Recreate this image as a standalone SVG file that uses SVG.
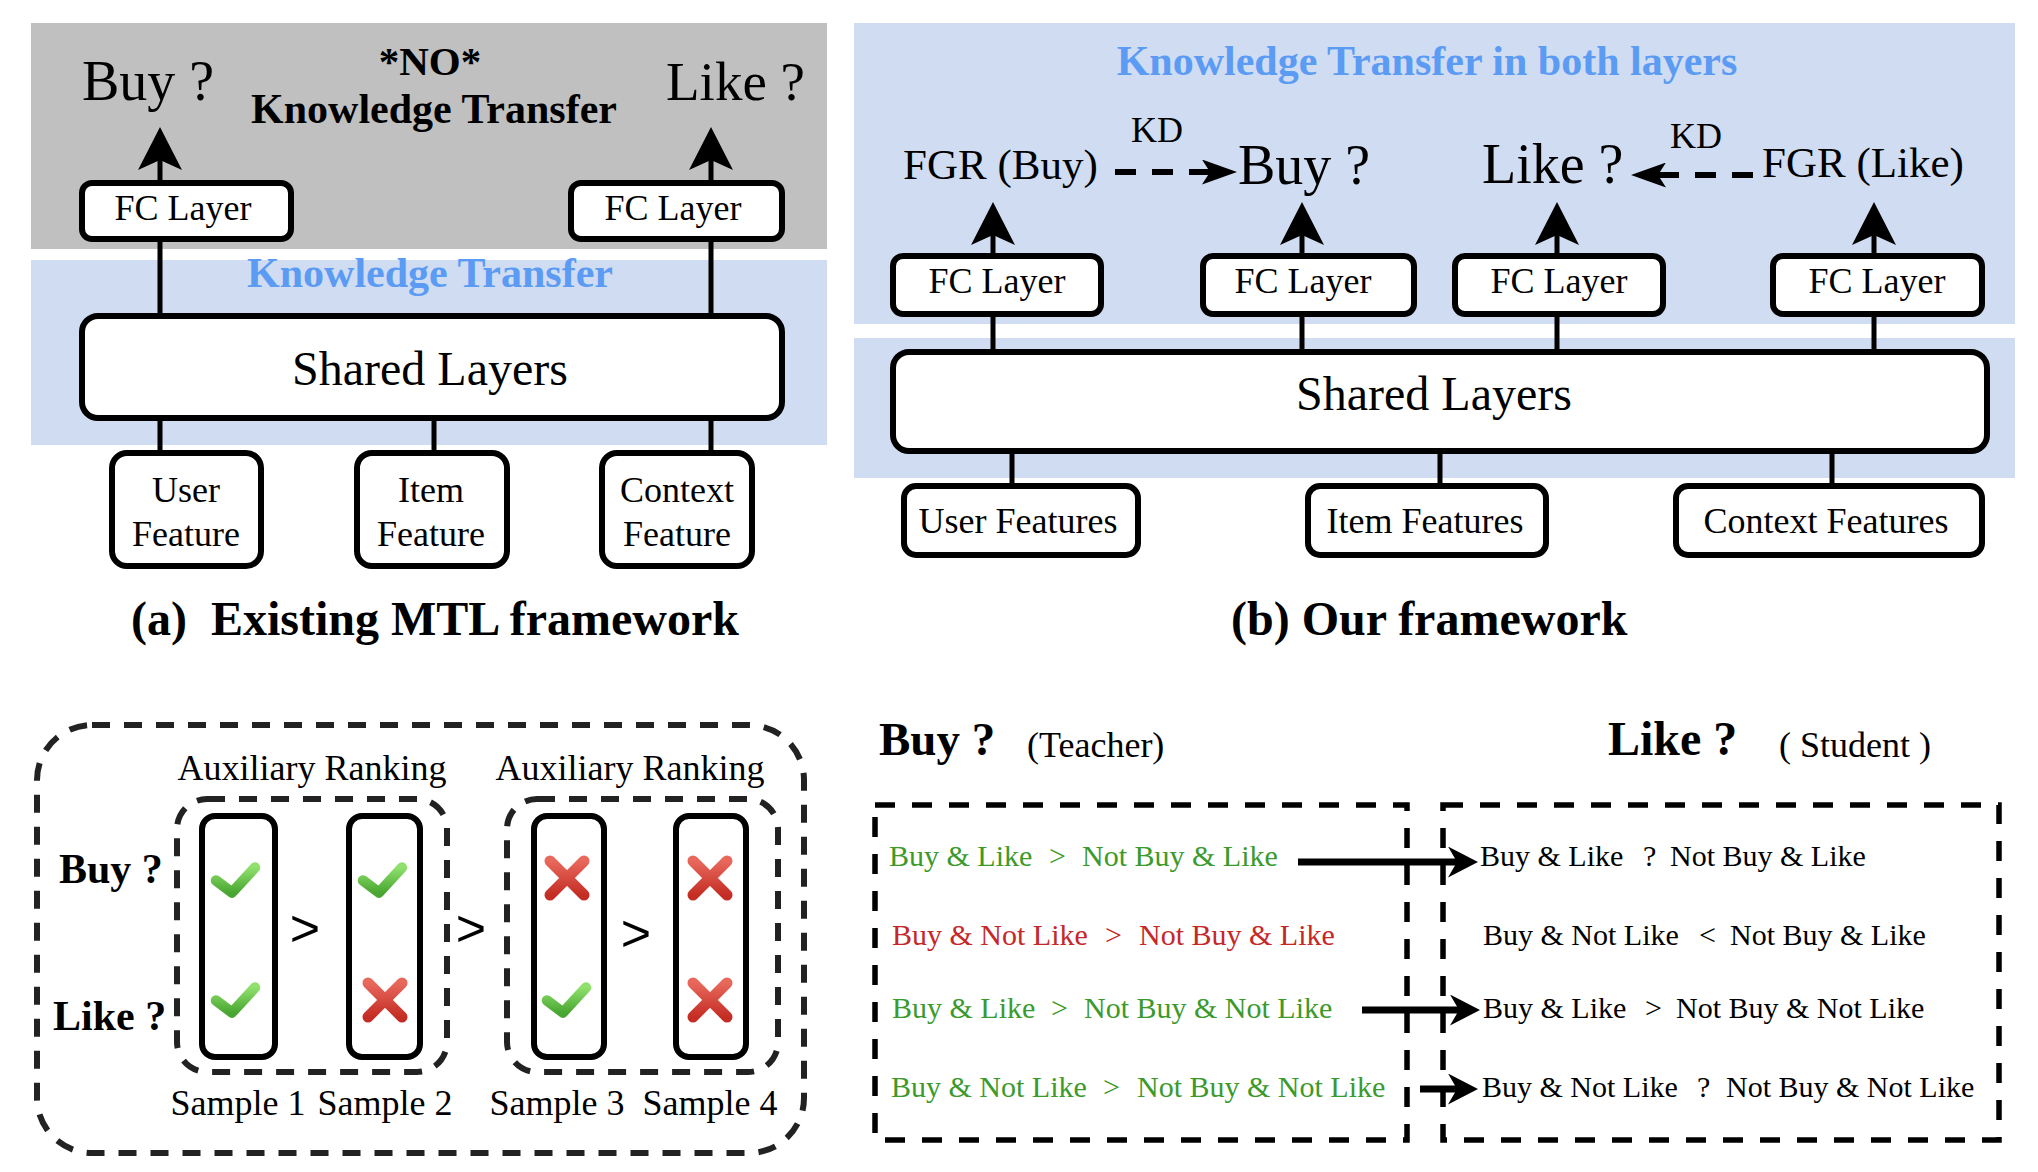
<svg xmlns="http://www.w3.org/2000/svg" width="2038" height="1172" viewBox="0 0 2038 1172">
<style>
text{font-family:"Liberation Serif","Times New Roman",serif;fill:#000}
.b{font-weight:bold}
.blue{fill:#5B9BF3;font-weight:bold}
.box{fill:#fff;stroke:#000;stroke-width:6}
.ln{stroke:#000;stroke-width:5;fill:none}
.dsh{fill:none;stroke:#222;stroke-width:6;stroke-dasharray:18 14}
.dsd{fill:none;stroke:#000;stroke-width:5.5;stroke-dasharray:20 17}
.grn{fill:#3C9A2C}
.red{fill:#C52828}
.sym{font-family:"Liberation Sans",Arial,sans-serif}
</style>
<defs>
<marker id="ahUp" markerUnits="userSpaceOnUse" markerWidth="44" markerHeight="44" viewBox="0 0 43 44" refX="10" refY="22" orient="auto"><path d="M0,0 L43,22 L0,44 L10,22 Z" fill="#000"/></marker>
<marker id="ahKD" markerUnits="userSpaceOnUse" markerWidth="35" markerHeight="25" viewBox="0 0 35 25" refX="8" refY="12.5" orient="auto"><path d="M0,0 L35,12.5 L0,25 L8,12.5 Z" fill="#000"/></marker>
<marker id="ahD" markerUnits="userSpaceOnUse" markerWidth="30" markerHeight="31" viewBox="0 0 30 31" refX="9" refY="15.5" orient="auto"><path d="M0,0 L30,15.5 L0,31 L9,15.5 Z" fill="#000"/></marker>
<linearGradient id="gG" x1="0" y1="0" x2="0" y2="1"><stop offset="0" stop-color="#8FE06C"/><stop offset="1" stop-color="#4AA632"/></linearGradient>
<linearGradient id="gR" x1="0" y1="0" x2="0" y2="1"><stop offset="0" stop-color="#E8685C"/><stop offset="1" stop-color="#C42D24"/></linearGradient>
<g id="chk"><path d="M-19,0.5 L-3,12.5 L20,-12.5" fill="none" stroke="url(#gG)" stroke-width="10.5" stroke-linecap="round" stroke-linejoin="round"/></g>
<g id="crs"><path d="M-17,-17 L17,17 M17,-17 L-17,17" fill="none" stroke="url(#gR)" stroke-width="11" stroke-linecap="round"/></g>
</defs>
<rect width="2038" height="1172" fill="#fff"/>

<!-- (a) Existing MTL framework -->
<g id="a-backgrounds">
<rect x="31" y="23" width="796" height="226" fill="#C0C0C0"/>
<rect x="31" y="260" width="796" height="185" fill="#CFDCF1"/>
</g>
<g id="a-labels">
<text x="82" y="100" font-size="56">Buy ?</text>
<text x="666" y="100" font-size="55">Like ?</text>
<text class="b" x="430" y="75" font-size="41" text-anchor="middle">*NO*</text>
<text class="b" x="434" y="123" font-size="42" text-anchor="middle">Knowledge Transfer</text>
<text class="blue" x="430" y="287" font-size="42" text-anchor="middle">Knowledge Transfer</text>
</g>
<g id="a-connectors">
<line class="ln" x1="160" y1="183" x2="160" y2="160" marker-end="url(#ahUp)"/>
<line class="ln" x1="711" y1="183" x2="711" y2="160" marker-end="url(#ahUp)"/>
<line class="ln" x1="160" y1="242" x2="160" y2="316"/>
<line class="ln" x1="711" y1="242" x2="711" y2="316"/>
<line class="ln" x1="160" y1="419" x2="160" y2="453"/>
<line class="ln" x1="434" y1="419" x2="434" y2="453"/>
<line class="ln" x1="711" y1="419" x2="711" y2="453"/>
</g>
<g id="a-fc-buy"><rect class="box" x="82" y="183" width="209" height="56" rx="10"/><text x="183" y="220" font-size="36" text-anchor="middle">FC Layer</text></g>
<g id="a-fc-like"><rect class="box" x="571" y="183" width="211" height="56" rx="10"/><text x="673" y="220" font-size="36" text-anchor="middle">FC Layer</text></g>
<g id="a-shared"><rect class="box" x="82" y="316" width="700" height="102" rx="16"/><text x="430" y="385" font-size="48" text-anchor="middle">Shared Layers</text></g>
<g id="a-user"><rect class="box" x="112" y="453" width="149" height="113" rx="15"/><text x="186" y="502" font-size="36" text-anchor="middle">User</text><text x="186" y="546" font-size="36" text-anchor="middle">Feature</text></g>
<g id="a-item"><rect class="box" x="357" y="453" width="150" height="113" rx="15"/><text x="431" y="502" font-size="36" text-anchor="middle">Item</text><text x="431" y="546" font-size="36" text-anchor="middle">Feature</text></g>
<g id="a-context"><rect class="box" x="602" y="453" width="150" height="113" rx="15"/><text x="677" y="502" font-size="36" text-anchor="middle">Context</text><text x="677" y="546" font-size="36" text-anchor="middle">Feature</text></g>
<text class="b" x="131" y="635" font-size="48" xml:space="preserve">(a)  Existing MTL framework</text>

<!-- (b) Our framework -->
<g id="b-backgrounds">
<rect x="854" y="23" width="1161" height="301" fill="#CFDCF1"/>
<rect x="854" y="338" width="1161" height="140" fill="#CFDCF1"/>
</g>
<g id="b-labels">
<text class="blue" x="1427" y="75" font-size="42" text-anchor="middle">Knowledge Transfer in both layers</text>
<text x="903" y="179" font-size="43">FGR (Buy)</text>
<text x="1238" y="184" font-size="56">Buy ?</text>
<text x="1482" y="183" font-size="56">Like ?</text>
<text x="1762" y="177" font-size="43">FGR (Like)</text>
<text x="1131" y="142" font-size="36">KD</text>
<text x="1670" y="148" font-size="36">KD</text>
</g>
<g id="b-connectors">
<line x1="1115" y1="172" x2="1210" y2="172" stroke="#000" stroke-width="6" stroke-dasharray="21 16" marker-end="url(#ahKD)"/>
<line x1="1753" y1="175" x2="1658" y2="175" stroke="#000" stroke-width="6" stroke-dasharray="21 16" marker-end="url(#ahKD)"/>
<line class="ln" x1="993" y1="256" x2="993" y2="235" marker-end="url(#ahUp)"/>
<line class="ln" x1="1302" y1="256" x2="1302" y2="235" marker-end="url(#ahUp)"/>
<line class="ln" x1="1557" y1="256" x2="1557" y2="235" marker-end="url(#ahUp)"/>
<line class="ln" x1="1874" y1="256" x2="1874" y2="235" marker-end="url(#ahUp)"/>
<line class="ln" x1="993" y1="314" x2="993" y2="352"/>
<line class="ln" x1="1302" y1="314" x2="1302" y2="352"/>
<line class="ln" x1="1557" y1="314" x2="1557" y2="352"/>
<line class="ln" x1="1874" y1="314" x2="1874" y2="352"/>
<line class="ln" x1="1012" y1="451" x2="1012" y2="486"/>
<line class="ln" x1="1440" y1="451" x2="1440" y2="486"/>
<line class="ln" x1="1832" y1="451" x2="1832" y2="486"/>
</g>
<g id="b-fc1"><rect class="box" x="893" y="256" width="208" height="58" rx="10"/><text x="997" y="293" font-size="36" text-anchor="middle">FC Layer</text></g>
<g id="b-fc2"><rect class="box" x="1203" y="256" width="211" height="58" rx="10"/><text x="1303" y="293" font-size="36" text-anchor="middle">FC Layer</text></g>
<g id="b-fc3"><rect class="box" x="1455" y="256" width="208" height="58" rx="10"/><text x="1559" y="293" font-size="36" text-anchor="middle">FC Layer</text></g>
<g id="b-fc4"><rect class="box" x="1773" y="256" width="209" height="58" rx="10"/><text x="1877" y="293" font-size="36" text-anchor="middle">FC Layer</text></g>
<g id="b-shared"><rect class="box" x="893" y="352" width="1094" height="99" rx="16"/><text x="1434" y="410" font-size="48" text-anchor="middle">Shared Layers</text></g>
<g id="b-user"><rect class="box" x="904" y="486" width="234" height="69" rx="12"/><text x="1018" y="533" font-size="36" text-anchor="middle">User Features</text></g>
<g id="b-item"><rect class="box" x="1308" y="486" width="238" height="69" rx="12"/><text x="1425" y="533" font-size="36" text-anchor="middle">Item Features</text></g>
<g id="b-context"><rect class="box" x="1676" y="486" width="306" height="69" rx="12"/><text x="1826" y="533" font-size="36" text-anchor="middle">Context Features</text></g>
<text class="b" x="1231" y="635" font-size="48">(b) Our framework</text>

<!-- (c) Auxiliary ranking -->
<g id="c-frame">
<rect class="dsh" x="37" y="725" width="767" height="428" rx="55"/>
<rect class="dsh" x="177" y="799" width="270" height="273" rx="30"/>
<rect class="dsh" x="507" y="799" width="271" height="273" rx="30"/>
</g>
<g id="c-labels">
<text x="312" y="780" font-size="36" text-anchor="middle">Auxiliary Ranking</text>
<text x="630" y="780" font-size="36" text-anchor="middle">Auxiliary Ranking</text>
<text class="b" x="59" y="883" font-size="42">Buy ?</text>
<text class="b" x="53" y="1030" font-size="42">Like ?</text>
<text class="sym" x="305" y="946" font-size="52" text-anchor="middle">&gt;</text>
<text class="sym" x="471" y="946" font-size="52" text-anchor="middle">&gt;</text>
<text class="sym" x="636" y="951" font-size="52" text-anchor="middle">&gt;</text>
</g>
<g id="c-sample1"><rect class="box" x="202" y="816" width="73" height="241" rx="13"/><use href="#chk" x="235" y="880"/><use href="#chk" x="235" y="1000"/><text x="238" y="1115" font-size="36" text-anchor="middle">Sample 1</text></g>
<g id="c-sample2"><rect class="box" x="349" y="816" width="71" height="241" rx="13"/><use href="#chk" x="382" y="880"/><use href="#crs" x="385" y="1000"/><text x="385" y="1115" font-size="36" text-anchor="middle">Sample 2</text></g>
<g id="c-sample3"><rect class="box" x="534" y="816" width="70" height="241" rx="13"/><use href="#crs" x="567" y="878"/><use href="#chk" x="566" y="1000"/><text x="557" y="1115" font-size="36" text-anchor="middle">Sample 3</text></g>
<g id="c-sample4"><rect class="box" x="676" y="816" width="70" height="241" rx="13"/><use href="#crs" x="710" y="878"/><use href="#crs" x="710" y="1000"/><text x="710" y="1115" font-size="36" text-anchor="middle">Sample 4</text></g>

<!-- (d) Teacher / Student -->
<g id="d-headers">
<text class="b" x="879" y="755" font-size="47">Buy ?</text>
<text x="1027" y="757" font-size="36">(Teacher)</text>
<text class="b" x="1608" y="755" font-size="48">Like ?</text>
<text x="1779" y="757" font-size="36" xml:space="preserve">( Student )</text>
</g>
<g id="d-teacher">
<rect class="dsd" x="875" y="805" width="532" height="335"/>
<text class="grn" y="866" font-size="30"><tspan x="889">Buy &amp; Like</tspan><tspan x="1049">&gt;</tspan><tspan x="1082">Not Buy &amp; Like</tspan></text>
<text class="red" y="945" font-size="30"><tspan x="892">Buy &amp; Not Like</tspan><tspan x="1105">&gt;</tspan><tspan x="1139">Not Buy &amp; Like</tspan></text>
<text class="grn" y="1018" font-size="30"><tspan x="892">Buy &amp; Like</tspan><tspan x="1051">&gt;</tspan><tspan x="1084">Not Buy &amp; Not Like</tspan></text>
<text class="grn" y="1097" font-size="30"><tspan x="891">Buy &amp; Not Like</tspan><tspan x="1103">&gt;</tspan><tspan x="1137">Not Buy &amp; Not Like</tspan></text>
</g>
<g id="d-student">
<rect class="dsd" x="1443" y="805" width="556" height="335"/>
<text y="866" font-size="30"><tspan x="1480">Buy &amp; Like</tspan><tspan x="1643">?</tspan><tspan x="1670">Not Buy &amp; Like</tspan></text>
<text y="945" font-size="30"><tspan x="1483">Buy &amp; Not Like</tspan><tspan x="1699">&lt;</tspan><tspan x="1730">Not Buy &amp; Like</tspan></text>
<text y="1018" font-size="30"><tspan x="1483">Buy &amp; Like</tspan><tspan x="1645">&gt;</tspan><tspan x="1676">Not Buy &amp; Not Like</tspan></text>
<text y="1097" font-size="30"><tspan x="1482">Buy &amp; Not Like</tspan><tspan x="1697">?</tspan><tspan x="1726">Not Buy &amp; Not Like</tspan></text>
</g>
<g id="d-connectors">
<line x1="1298" y1="862" x2="1457" y2="862" stroke="#000" stroke-width="7" marker-end="url(#ahD)"/>
<line x1="1362" y1="1010" x2="1459" y2="1010" stroke="#000" stroke-width="7" marker-end="url(#ahD)"/>
<line x1="1420" y1="1089" x2="1457" y2="1089" stroke="#000" stroke-width="7" marker-end="url(#ahD)"/>
</g>
</svg>
